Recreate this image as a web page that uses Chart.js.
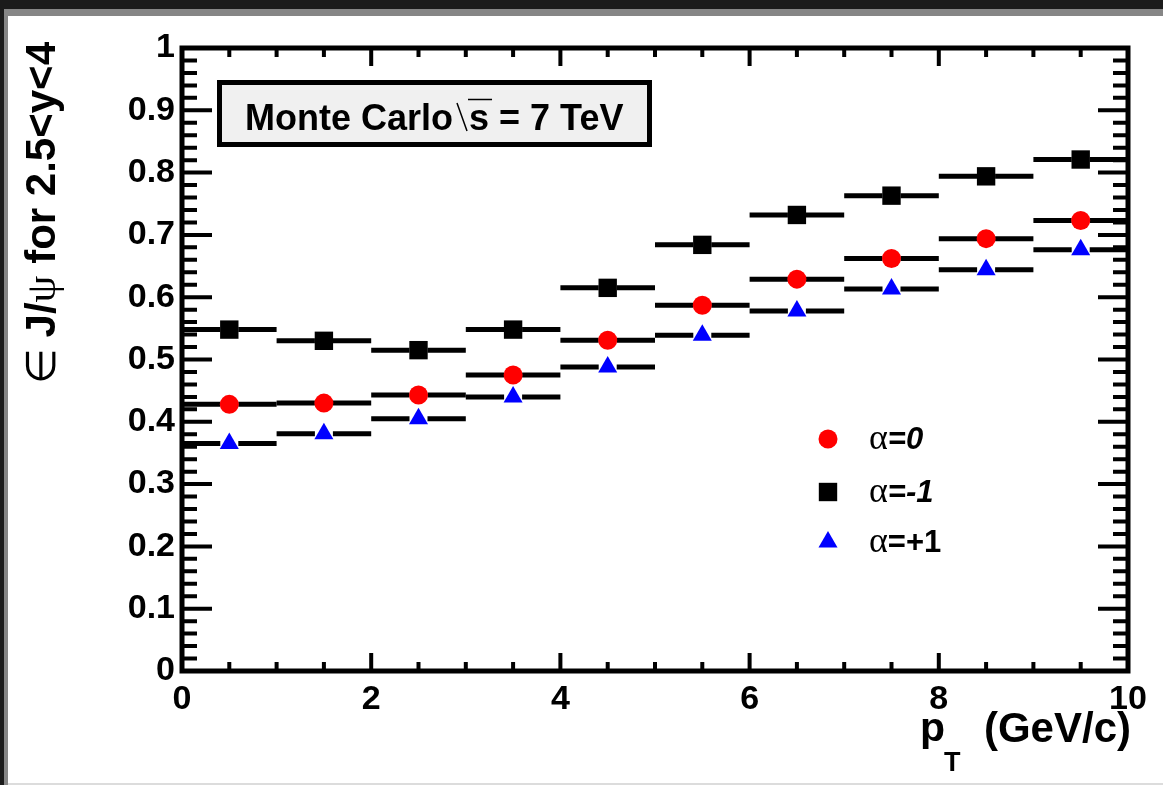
<!DOCTYPE html>
<html>
<head>
<meta charset="utf-8">
<title>J/psi efficiency vs pT</title>
<script src="https://cdn.jsdelivr.net/npm/chart.js@4.4.1/dist/chart.umd.min.js"></script>
<style>
    html, body { margin: 0; padding: 0; background: #ffffff; }
    canvas { display: block; }
</style>
</head>
<body>
<canvas id="effChart" width="1163" height="785"></canvas>
<script>
// pT bins (GeV/c): centres and half widths
const ptCenters = [0.5, 1.5, 2.5, 3.5, 4.5, 5.5, 6.5, 7.5, 8.5, 9.5];
const ptHalfWidths = [0.5, 0.5, 0.5, 0.5, 0.5, 0.5, 0.5, 0.5, 0.5, 0.5];

// efficiency for the three polarisation hypotheses
const effAlpha0 = [0.428, 0.430, 0.443, 0.475, 0.531, 0.587, 0.629, 0.662, 0.694, 0.723];
const effAlphaMinus1 = [0.548, 0.530, 0.515, 0.548, 0.615, 0.684, 0.732, 0.763, 0.794, 0.821];
const effAlphaPlus1 = [0.365, 0.381, 0.405, 0.440, 0.488, 0.539, 0.578, 0.613, 0.644, 0.676];

// axis tick labels
const yTickLabels = ['0', '0.1', '0.2', '0.3', '0.4', '0.5', '0.6', '0.7', '0.8', '0.9', '1'];

// legend text (alpha symbol drawn separately)
const legendSuffix = ['=0', '=-1', '=+1'];
const legendItalic = [true, true, false];

const SANS = "'Liberation Sans', Arial, Helvetica, sans-serif";
const SERIF = "'Liberation Serif', 'Times New Roman', serif";

function toPoints(values) {
    return ptCenters.map((x, i) => ({ x: x, y: values[i] }));
}

// draw a list of text pieces one after the other, starting at x
function drawPieces(ctx, pieces, x, y) {
    let pos = x;
    pieces.forEach(p => {
        ctx.font = p.font;
        ctx.fillText(p.text, pos, y + (p.dy || 0));
        pos += ctx.measureText(p.text).width;
    });
    return pos;
}

function piecesWidth(ctx, pieces) {
    let w = 0;
    pieces.forEach(p => {
        ctx.font = p.font;
        w += ctx.measureText(p.text).width;
    });
    return w;
}

const rootStyle = {
    id: 'rootStyle',
    beforeDraw(chart) {
        const ctx = chart.ctx;
        const W = chart.width, H = chart.height;
        ctx.save();
        ctx.fillStyle = '#ffffff';
        ctx.fillRect(0, 0, W, H);
        // window frame of the screenshot
        ctx.fillStyle = '#1b1b1b';
        ctx.fillRect(0, 0, W, 9);
        ctx.fillRect(0, 0, 4, H);
        ctx.fillStyle = '#868686';
        ctx.fillRect(4, 9, W - 4, 7);
        ctx.fillRect(4, 9, 4, H - 9);
        ctx.fillStyle = '#dcdcdc';
        ctx.fillRect(8, H - 2, W - 8, 2);
        ctx.restore();
    },
    beforeDatasetsDraw(chart) {
        // horizontal bin-width bars, with a gap around the marker
        const ctx = chart.ctx;
        const xs = chart.scales.x, ys = chart.scales.y;
        const gap = 9;
        ctx.save();
        ctx.strokeStyle = '#000000';
        ctx.lineWidth = 5;
        ctx.lineCap = 'butt';
        chart.data.datasets.forEach(ds => {
            ds.data.forEach((pt, i) => {
                const xc = xs.getPixelForValue(pt.x);
                const xl = xs.getPixelForValue(pt.x - ptHalfWidths[i]);
                const xr = xs.getPixelForValue(pt.x + ptHalfWidths[i]);
                const y = ys.getPixelForValue(pt.y);
                ctx.beginPath();
                ctx.moveTo(xl, y);
                ctx.lineTo(xc - gap, y);
                ctx.moveTo(xc + gap, y);
                ctx.lineTo(xr, y);
                ctx.stroke();
            });
        });
        ctx.restore();
    },
    afterDatasetsDraw(chart) {
        const ctx = chart.ctx;
        const area = chart.chartArea;
        const xs = chart.scales.x, ys = chart.scales.y;
        ctx.save();
        ctx.strokeStyle = '#000000';
        ctx.fillStyle = '#000000';

        // frame
        ctx.lineWidth = 5;
        ctx.strokeRect(area.left, area.top, area.right - area.left, area.bottom - area.top);

        // y ticks (both sides, pointing inwards)
        ctx.lineWidth = 4;
        for (let k = 0; k <= 50; k++) {
            const v = k * 0.02;
            const y = ys.getPixelForValue(v);
            const len = (k % 5 === 0) ? 30 : 15;
            ctx.beginPath();
            ctx.moveTo(area.left, y);
            ctx.lineTo(area.left + len, y);
            ctx.moveTo(area.right, y);
            ctx.lineTo(area.right - len, y);
            ctx.stroke();
        }
        // x ticks (bottom and top, pointing inwards)
        for (let k = 0; k <= 20; k++) {
            const v = k * 0.5;
            const x = xs.getPixelForValue(v);
            const len = (k % 4 === 0) ? 18 : 9;
            ctx.beginPath();
            ctx.moveTo(x, area.bottom);
            ctx.lineTo(x, area.bottom - len);
            ctx.moveTo(x, area.top);
            ctx.lineTo(x, area.top + len);
            ctx.stroke();
        }

        // "Monte Carlo sqrt(s) = 7 TeV" box
        ctx.fillStyle = '#f0f0f0';
        ctx.fillRect(219, 82, 431, 63);
        ctx.lineWidth = 5;
        ctx.strokeRect(219.5, 82.5, 430, 62);
        ctx.fillStyle = '#000000';
        ctx.textBaseline = 'alphabetic';
        ctx.textAlign = 'left';
        ctx.font = 'bold 36px ' + SANS;
        ctx.fillText('Monte Carlo', 245, 130);
        const xRad = 245 + ctx.measureText('Monte Carlo').width + 4;
        const sW = ctx.measureText('s').width;
        ctx.lineWidth = 1.5;
        ctx.beginPath();
        ctx.moveTo(xRad, 103);
        ctx.lineTo(xRad + 10, 131);
        ctx.moveTo(xRad + 11, 99.5);
        ctx.lineTo(xRad + 12 + sW + 3, 99.5);
        ctx.stroke();
        ctx.fillText('s = 7 TeV', xRad + 12, 130);

        // legend
        const legendX = 828;
        const legendY = [439, 492, 542];
        chart.data.datasets.forEach((ds, i) => {
            ctx.fillStyle = ds.backgroundColor;
            if (Chart.helpers && Chart.helpers.drawPoint) {
                Chart.helpers.drawPoint(ctx, {
                    pointStyle: ds.pointStyle,
                    radius: ds.pointRadius,
                    rotation: 0,
                    borderWidth: 0
                }, legendX, legendY[i]);
            }
            ctx.fillStyle = '#000000';
            drawPieces(ctx, [
                { text: 'α', font: '36px ' + SERIF },
                { text: legendSuffix[i], font: (legendItalic[i] ? 'italic ' : '') + 'bold 31px ' + SANS }
            ], 869, legendY[i] + 10);
        });

        // y axis title, rotated, ending at the top of the axis
        const yTitle = [
            { text: '∈ ', font: '41px ' + SERIF },
            { text: 'J/', font: 'bold 42px ' + SANS },
            { text: 'ψ', font: '43px ' + SERIF },
            { text: ' for 2.5<y<4', font: 'bold 42px ' + SANS }
        ];
        ctx.save();
        ctx.translate(55, 42);
        ctx.rotate(-Math.PI / 2);
        drawPieces(ctx, yTitle, -piecesWidth(ctx, yTitle), 0);
        ctx.restore();

        // x axis title: p_T (GeV/c)
        ctx.font = 'bold 41px ' + SANS;
        ctx.fillText('p', 920, 741);
        ctx.font = 'bold 27px ' + SANS;
        ctx.fillText('T', 944, 771);
        ctx.font = 'bold 42px ' + SANS;
        ctx.textAlign = 'right';
        ctx.fillText('(GeV/c)', 1131, 742);

        ctx.restore();
    }
};

const tickFont = { family: SANS, size: 34, weight: 'bold' };

new Chart(document.getElementById('effChart').getContext('2d'), {
    type: 'scatter',
    data: {
        datasets: [
            {
                label: 'α=0',
                data: toPoints(effAlpha0),
                pointStyle: 'circle',
                pointRadius: 9.5,
                backgroundColor: '#ff0000',
                borderWidth: 0
            },
            {
                label: 'α=-1',
                data: toPoints(effAlphaMinus1),
                pointStyle: 'rect',
                pointRadius: 13,
                backgroundColor: '#000000',
                borderWidth: 0
            },
            {
                label: 'α=+1',
                data: toPoints(effAlphaPlus1),
                pointStyle: 'triangle',
                pointRadius: 11,
                backgroundColor: '#0000ff',
                borderWidth: 0
            }
        ]
    },
    options: {
        responsive: false,
        animation: false,
        devicePixelRatio: 1,
        layout: {
            padding: { top: 48, right: 35, bottom: 0, left: 0 }
        },
        plugins: {
            legend: { display: false },
            tooltip: { enabled: false }
        },
        scales: {
            x: {
                type: 'linear',
                min: 0,
                max: 10,
                afterFit: function(scale) { scale.height = 114; },
                grid: { display: false, drawTicks: false },
                border: { display: false },
                ticks: {
                    stepSize: 2,
                    maxRotation: 0,
                    padding: 8,
                    color: '#000000',
                    font: tickFont
                }
            },
            y: {
                min: 0,
                max: 1,
                afterFit: function(scale) { scale.width = 182; },
                grid: { display: false, drawTicks: false },
                border: { display: false },
                ticks: {
                    stepSize: 0.1,
                    padding: 7,
                    color: '#000000',
                    font: tickFont,
                    callback: function(value, index) {
                        return yTickLabels[index];
                    }
                }
            }
        }
    },
    plugins: [rootStyle]
});
</script>
</body>
</html>
